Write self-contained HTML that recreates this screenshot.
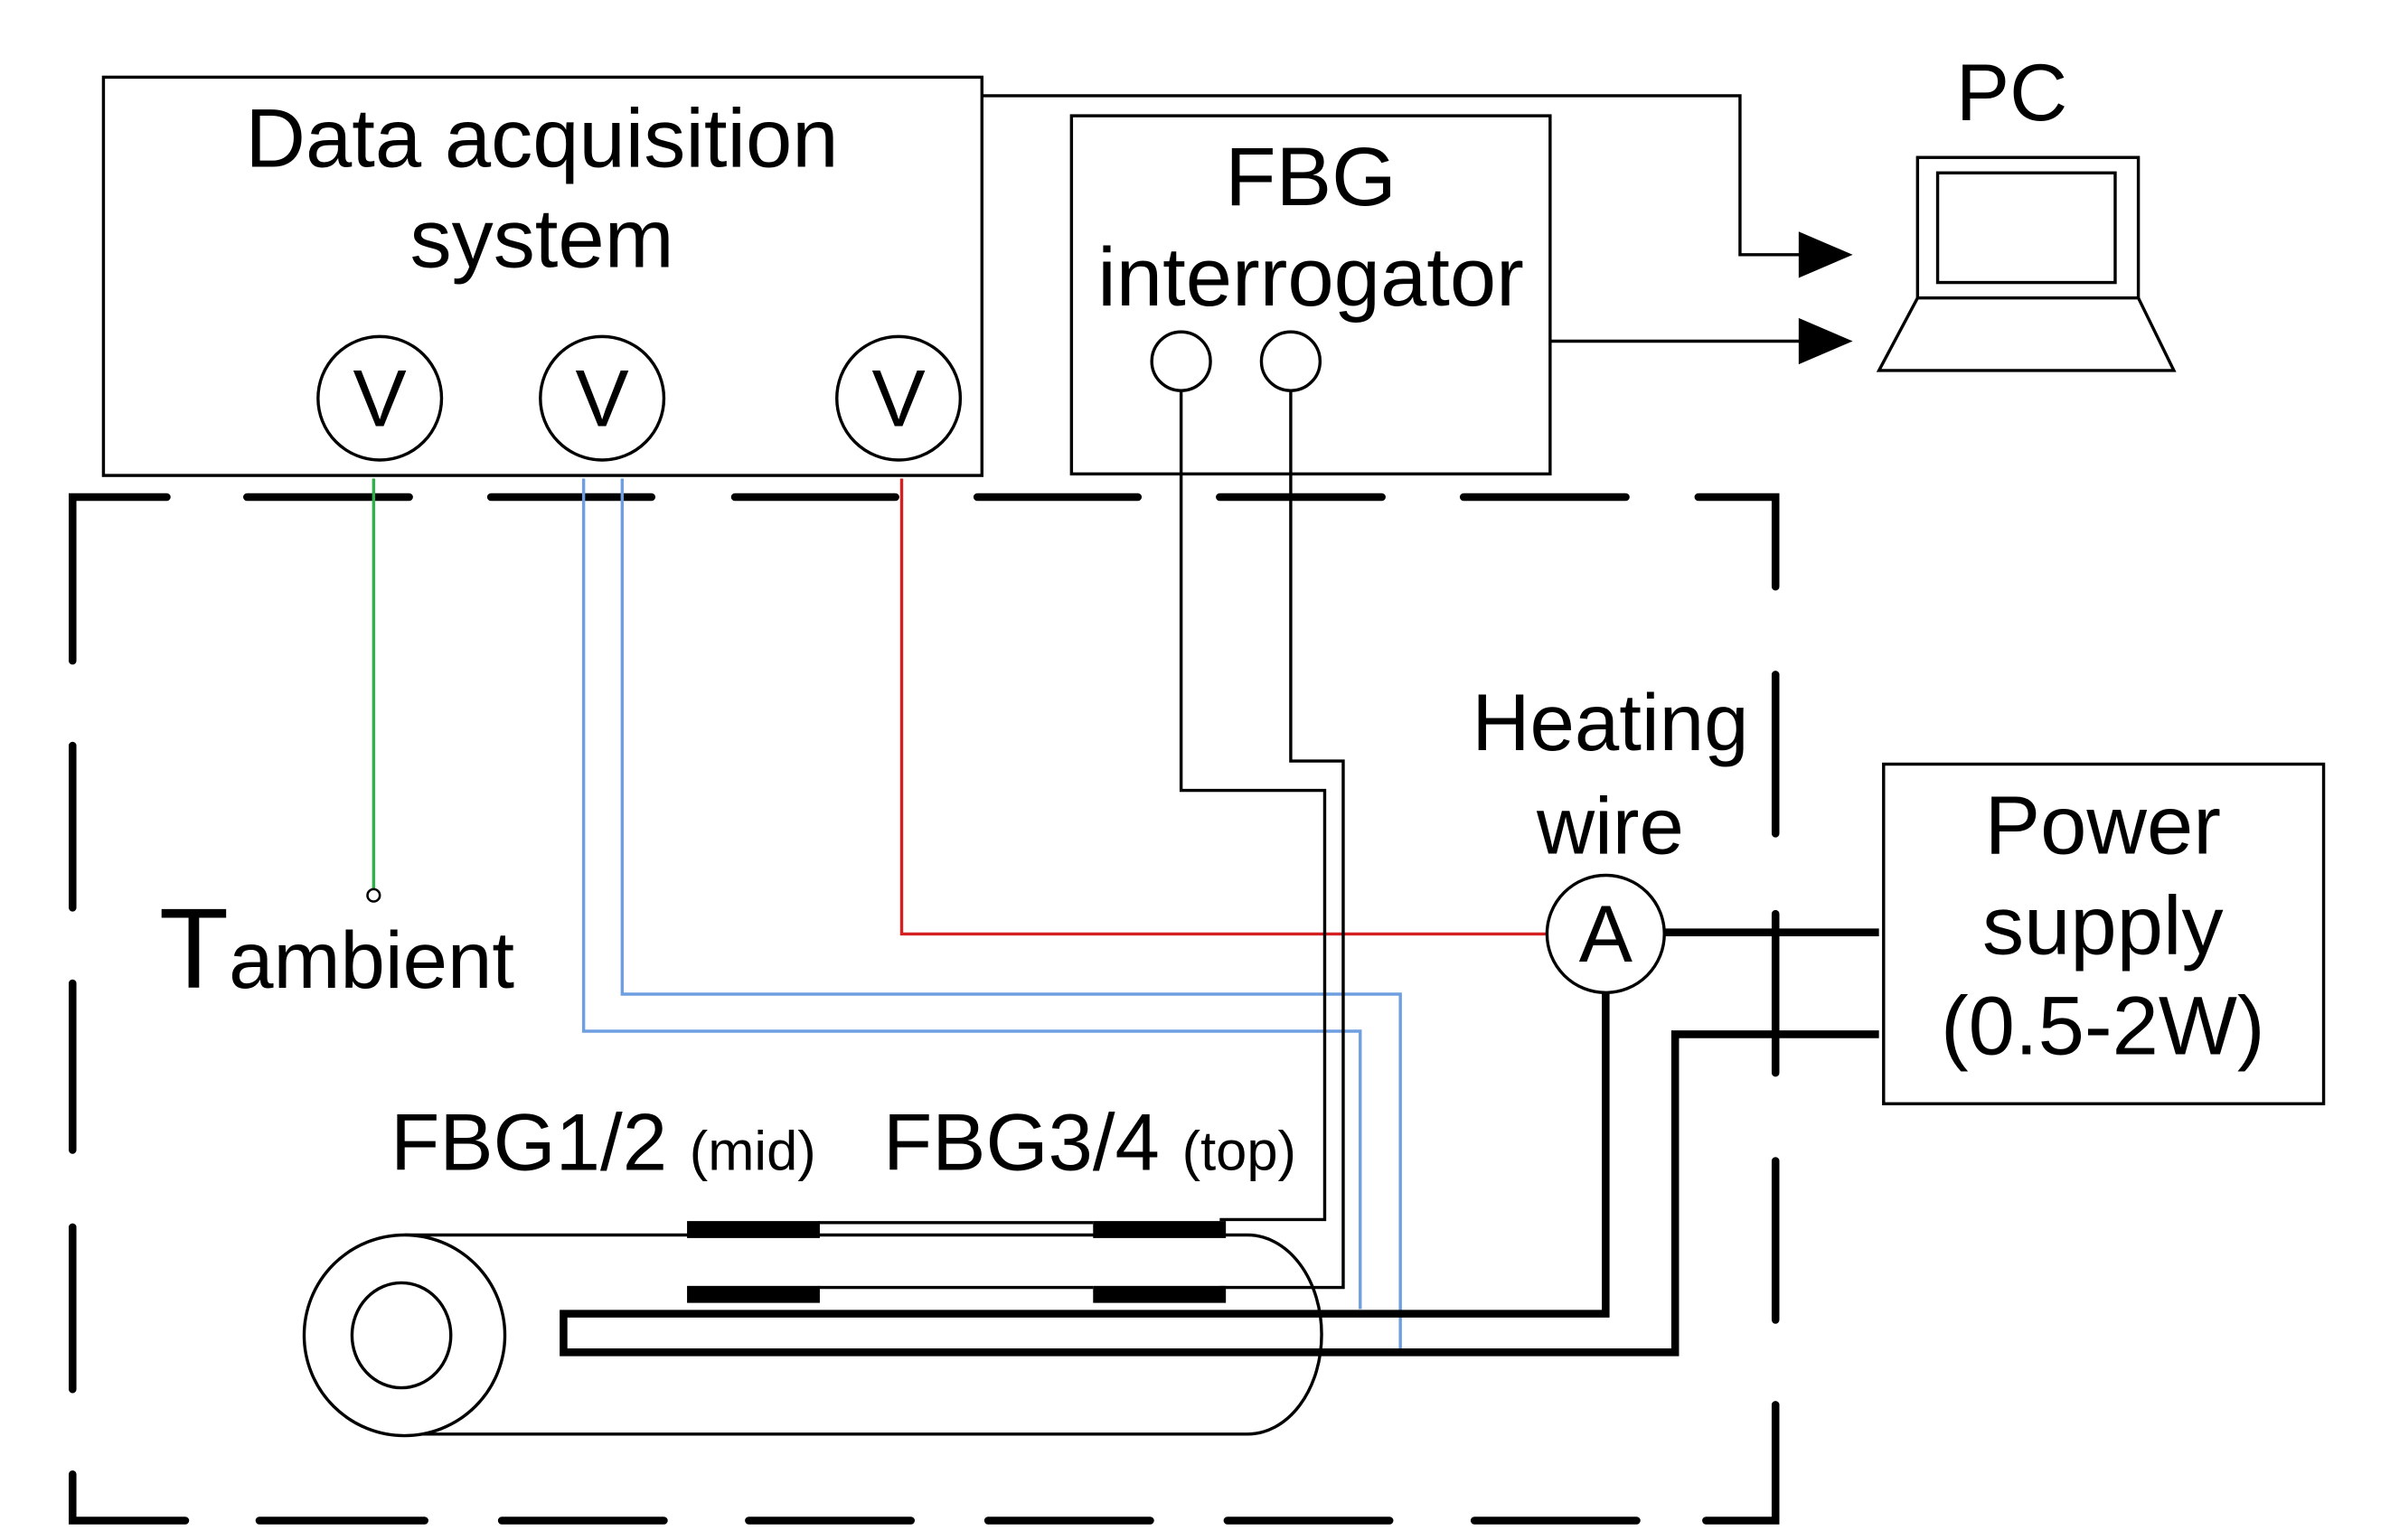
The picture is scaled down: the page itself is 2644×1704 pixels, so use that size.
<!DOCTYPE html>
<html><head><meta charset="utf-8"><style>
html,body{margin:0;padding:0;background:#fff;}
svg{display:block;}
text{font-family:"Liberation Sans",Arial,sans-serif;fill:#000;}
</style></head><body>
<svg width="2644" height="1704" viewBox="0 0 1548 997.6" preserveAspectRatio="none" xmlns="http://www.w3.org/2000/svg">
<rect width="1548" height="998" fill="#fff"/>
<!-- dashed enclosure -->
<g stroke="#000" stroke-width="5" fill="none" stroke-linecap="round">
<path d="M47 428 L47 322 L108 322"/>
<path d="M160 322 L265 322 M318 322 L422 322 M476 322 L580 322 M633 322 L737 322 M790 322 L895 322 M948 322 L1053 322"/>
<path d="M1100 322 L1150 322 L1150 380"/>
<path d="M1150 437 L1150 540 M1150 592 L1150 695 M1150 752 L1150 855"/>
<path d="M1150 910 L1150 985 L1105 985"/>
<path d="M1060 985 L955 985 M900 985 L795 985 M745 985 L640 985 M590 985 L485 985 M430 985 L325 985 M275 985 L168 985"/>
<path d="M120 985 L47 985 L47 955"/>
<path d="M47 483 L47 588 M47 637 L47 745 M47 795 L47 900"/>
</g>
<!-- DAQ -->
<rect x="67" y="50" width="569" height="258" fill="#fff" stroke="#000" stroke-width="2"/>
<text x="351" y="108" font-size="54" text-anchor="middle">Data acquisition</text>
<text x="351" y="173" font-size="54" text-anchor="middle">system</text>
<g fill="#fff" stroke="#000" stroke-width="2">
<circle cx="246" cy="258" r="40"/><circle cx="390" cy="258" r="40"/><circle cx="582" cy="258" r="40"/>
</g>
<text x="246" y="276" font-size="52" text-anchor="middle">V</text>
<text x="390" y="276" font-size="52" text-anchor="middle">V</text>
<text x="582" y="276" font-size="52" text-anchor="middle">V</text>
<!-- FBG interrogator -->
<rect x="694" y="75" width="310" height="232" fill="#fff" stroke="#000" stroke-width="2"/>
<text x="849" y="133" font-size="54" text-anchor="middle">FBG</text>
<text x="849" y="198" font-size="54" text-anchor="middle">interrogator</text>
<circle cx="765" cy="234" r="19" fill="#fff" stroke="#000" stroke-width="2"/>
<circle cx="836" cy="234" r="19" fill="#fff" stroke="#000" stroke-width="2"/>
<!-- PC -->
<text x="1303" y="78" font-size="52" text-anchor="middle">PC</text>
<rect x="1242" y="102" width="143" height="91" fill="#fff" stroke="#000" stroke-width="2"/>
<rect x="1255" y="112" width="115" height="71" fill="#fff" stroke="#000" stroke-width="2"/>
<path d="M1242 193 L1385 193 L1408 240 L1217 240 Z" fill="#fff" stroke="#000" stroke-width="2"/>
<!-- arrows -->
<path d="M636 62 L1127 62 L1127 165 L1172 165" fill="none" stroke="#000" stroke-width="2"/>
<path d="M1165 150 L1200 165 L1165 180 Z" fill="#000"/>
<path d="M1004 221 L1172 221" fill="none" stroke="#000" stroke-width="2"/>
<path d="M1165 206 L1200 221 L1165 236 Z" fill="#000"/>
<!-- green -->
<path d="M242 310 L242 576" stroke="#2db34a" stroke-width="2" fill="none"/>
<circle cx="242" cy="580" r="4" fill="#fff" stroke="#000" stroke-width="1.5"/>
<text x="103" y="640" font-size="74">T<tspan font-size="52">ambient</tspan></text>
<!-- blue -->
<path d="M378 310 L378 668 L881 668 L881 848" stroke="#6f9fe0" stroke-width="2" fill="none"/>
<path d="M403 310 L403 644 L907 644 L907 875" stroke="#6f9fe0" stroke-width="2" fill="none"/>
<!-- red -->
<path d="M584 310 L584 605 L1002 605" stroke="#d42020" stroke-width="2" fill="none"/>
<!-- fibers -->
<path d="M765 253 L765 512 L858 512 L858 790 L790 790" stroke="#000" stroke-width="2" fill="none"/>
<path d="M836 253 L836 493 L870 493 L870 834 L790 834" stroke="#000" stroke-width="2" fill="none"/>
<path d="M530 792 L708 792 M530 834 L708 834" stroke="#000" stroke-width="2"/>
<!-- tube -->
<path d="M262 800 L808 800 A48 64.5 0 0 1 808 929 L262 929" fill="none" stroke="#000" stroke-width="2"/>
<ellipse cx="262" cy="865" rx="65" ry="65" fill="#fff" stroke="#000" stroke-width="2"/>
<ellipse cx="260" cy="865" rx="32" ry="34" fill="#fff" stroke="#000" stroke-width="2"/>
<g fill="#000">
<rect x="445" y="791" width="86" height="11"/><rect x="708" y="791" width="86" height="11"/>
<rect x="445" y="833" width="86" height="11"/><rect x="708" y="833" width="86" height="11"/>
</g>
<!-- heating wire -->
<path d="M1040 643 L1040 851 L365 851 L365 876 L1085 876 L1085 670 L1217 670" fill="none" stroke="#000" stroke-width="5"/>
<path d="M1078 604 L1217 604" stroke="#000" stroke-width="5"/>
<circle cx="1040" cy="605" r="38" fill="#fff" stroke="#000" stroke-width="2"/>
<text x="1040" y="623" font-size="52" text-anchor="middle">A</text>
<text x="1043" y="486" font-size="52" text-anchor="middle">Heating</text>
<text x="1043" y="553" font-size="52" text-anchor="middle">wire</text>
<!-- power supply -->
<rect x="1220" y="495" width="285" height="220" fill="#fff" stroke="#000" stroke-width="2"/>
<text x="1362" y="553" font-size="54" text-anchor="middle">Power</text>
<text x="1362" y="618" font-size="54" text-anchor="middle">supply</text>
<text x="1362" y="683" font-size="54" text-anchor="middle">(0.5-2W)</text>
<!-- FBG labels -->
<text x="253" y="758" font-size="52">FBG1/2 <tspan font-size="36">(mid)</tspan></text>
<text x="572" y="758" font-size="52">FBG3/4 <tspan font-size="36">(top)</tspan></text>
</svg>
</body></html>
